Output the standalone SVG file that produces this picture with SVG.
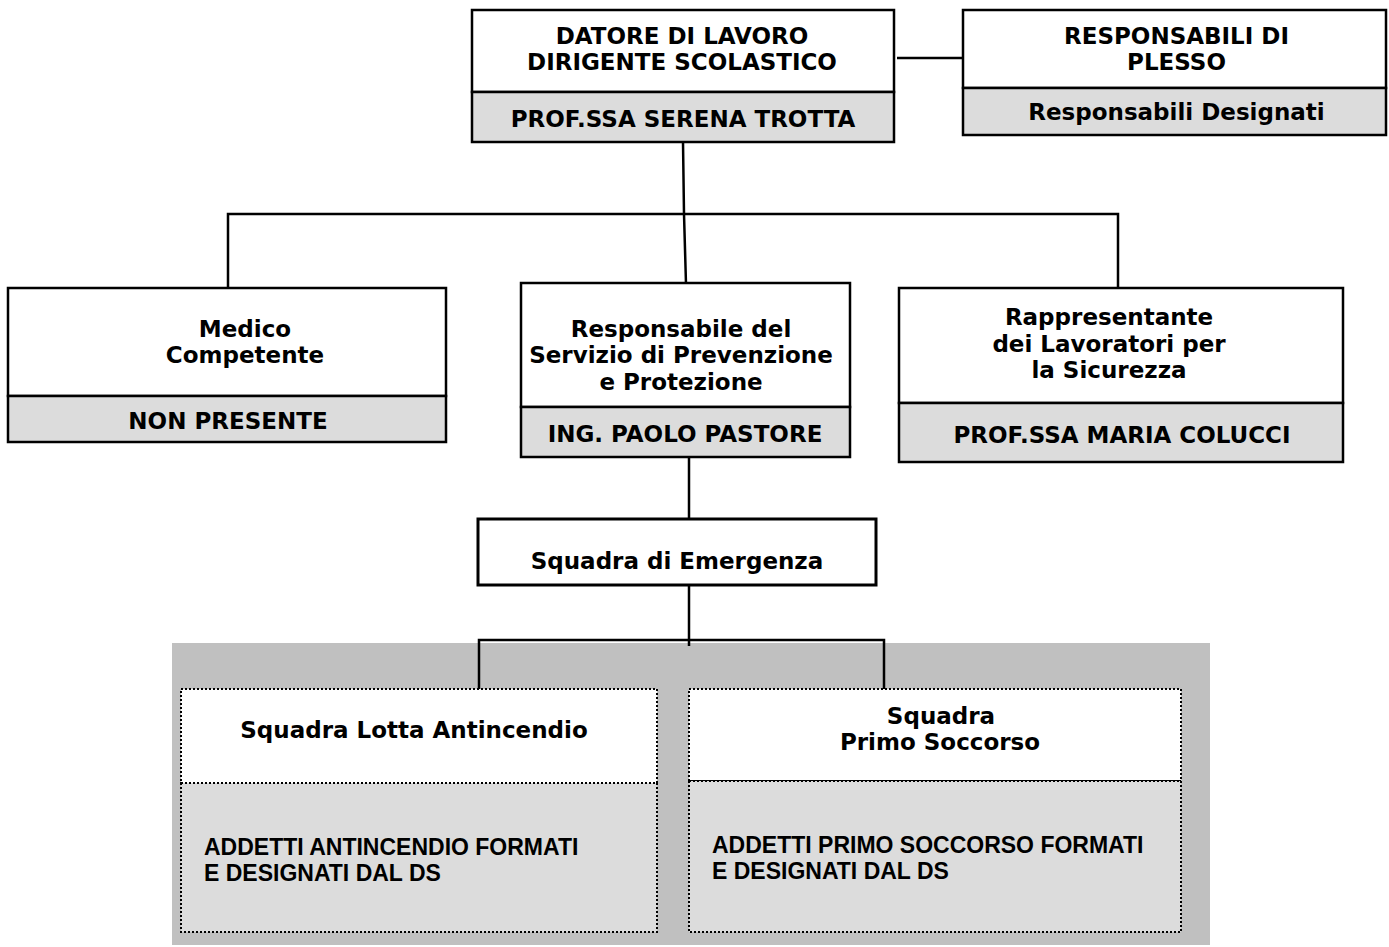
<svg xmlns="http://www.w3.org/2000/svg" width="1389" height="947" viewBox="0 0 1389 947">
<style>
.box{fill:#fff;stroke:#000;stroke-width:2.5}
.sub{fill:#dcdcdc;stroke:#000;stroke-width:2.5}
.dbox{fill:#fff;stroke:#000;stroke-width:2;stroke-dasharray:2 2;shape-rendering:crispEdges}
.dsub{fill:#dcdcdc;stroke:#000;stroke-width:2;stroke-dasharray:2 2;shape-rendering:crispEdges}
.t{font-family:"DejaVu Sans",Verdana,sans-serif;font-weight:bold;font-size:23px;fill:#000;text-anchor:middle}
.a{font-family:"Liberation Sans",Arial,sans-serif;font-weight:bold;font-size:23px;fill:#000}
.c{stroke:#000;stroke-width:2.5;fill:none}
</style>
<rect x="172" y="643" width="1038" height="302" fill="#c0c0c0"/>
<g id="connectors">
<line class="c" x1="897" y1="58" x2="963" y2="58"/>
<polyline class="c" points="683,142 684,214 686,284"/>
<polyline class="c" points="228,288 228,214 1118,214 1118,288"/>
<line class="c" x1="689" y1="457" x2="689" y2="519"/>
<line class="c" x1="689" y1="585" x2="689" y2="646"/>
<polyline class="c" points="479,689 479,640 884,640 884,689"/>
</g>
<g id="datore">
<rect class="box" x="472" y="10" width="422" height="82"/>
<rect class="sub" x="472" y="92" width="422" height="50"/>
<text class="t" x="682" y="43.5">DATORE DI LAVORO</text>
<text class="t" x="682" y="69.5">DIRIGENTE SCOLASTICO</text>
<text class="t" x="683" y="126.5">PROF.SSA SERENA TROTTA</text>
</g>
<g id="plesso">
<rect class="box" x="963" y="10" width="423" height="78"/>
<rect class="sub" x="963" y="88" width="423" height="47"/>
<text class="t" x="1176.5" y="43.5">RESPONSABILI DI</text>
<text class="t" x="1176.5" y="69.5">PLESSO</text>
<text class="t" x="1176.5" y="120">Responsabili Designati</text>
</g>
<g id="medico">
<rect class="box" x="8" y="288" width="438" height="108"/>
<rect class="sub" x="8" y="396" width="438" height="46"/>
<text class="t" x="245" y="336.5">Medico</text>
<text class="t" x="245" y="362.5">Competente</text>
<text class="t" x="228" y="428.5">NON PRESENTE</text>
</g>
<g id="rspp">
<rect class="box" x="521" y="283" width="329" height="124"/>
<rect class="sub" x="521" y="407" width="329" height="50"/>
<text class="t" x="681" y="336.5">Responsabile del</text>
<text class="t" x="681" y="362.5">Servizio di Prevenzione</text>
<text class="t" x="681" y="389.5">e Protezione</text>
<text class="t" x="685" y="441.5">ING. PAOLO PASTORE</text>
</g>
<g id="rls">
<rect class="box" x="899" y="288" width="444" height="115"/>
<rect class="sub" x="899" y="403" width="444" height="59"/>
<text class="t" x="1109" y="324.5">Rappresentante</text>
<text class="t" x="1109" y="351.5">dei Lavoratori per</text>
<text class="t" x="1109" y="377.5">la Sicurezza</text>
<text class="t" x="1122" y="442.5">PROF.SSA MARIA COLUCCI</text>
</g>
<g id="emergenza">
<rect x="478" y="519" width="398" height="66" fill="#fff" stroke="#000" stroke-width="3"/>
<text class="t" x="677" y="568.5">Squadra di Emergenza</text>
</g>
<g id="antincendio">
<rect class="dbox" x="181" y="689" width="476" height="94"/>
<rect class="dsub" x="181" y="783" width="476" height="149"/>
<text class="t" x="414" y="737.5">Squadra Lotta Antincendio</text>
<text class="a" x="204" y="855">ADDETTI ANTINCENDIO FORMATI</text>
<text class="a" x="204" y="881">E DESIGNATI DAL DS</text>
</g>
<g id="primosoccorso">
<rect class="dbox" x="689" y="689" width="492" height="92"/>
<rect class="dsub" x="689" y="781" width="492" height="151"/>
<text class="t" x="941" y="723.5">Squadra</text>
<text class="t" x="940" y="749.5">Primo Soccorso</text>
<text class="a" x="712" y="853">ADDETTI PRIMO SOCCORSO FORMATI</text>
<text class="a" x="712" y="879">E DESIGNATI DAL DS</text>
</g>
</svg>
